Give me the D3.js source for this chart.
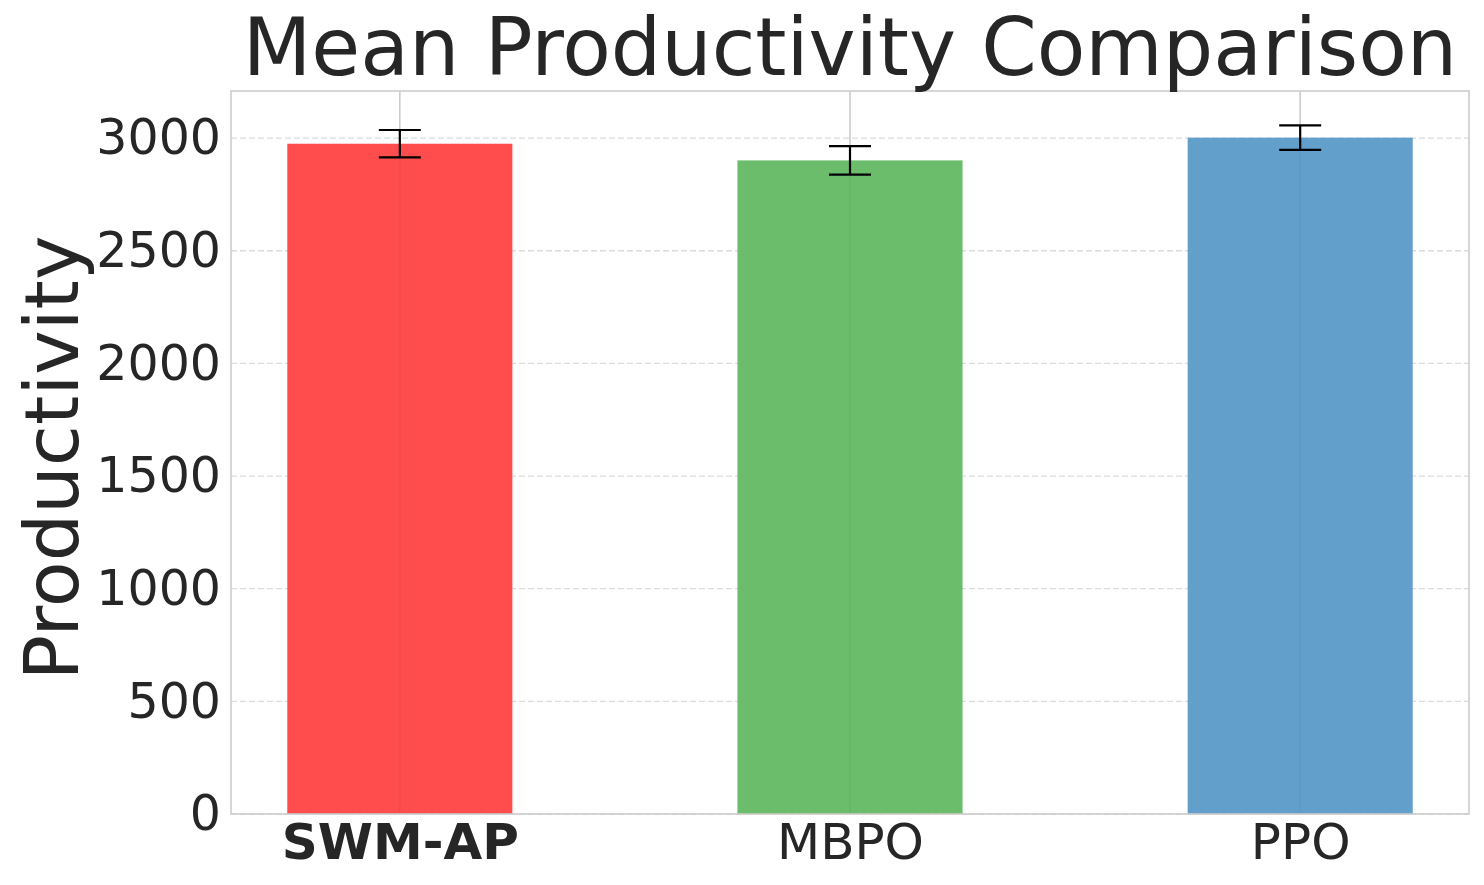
<!DOCTYPE html>
<html>
<head>
<meta charset="utf-8">
<script src="https://cdn.jsdelivr.net/npm/d3@7"></script>
<style>
  body { margin: 0; background: #fff; }
  text { font-family: "DejaVu Sans", sans-serif; fill: #262626; }
</style>
</head>
<body>
<script>
// chart data
var methods = ["SWM-AP", "MBPO", "PPO"];
var meanValues = [2975, 2901, 3002];
var errValues = [61, 63, 54];
var barColors = ["#ff4d4d", "#6bbd6b", "#62a0cb"];
var yTicks = [0, 500, 1000, 1500, 2000, 2500, 3000];

// set the dimensions and margins of the graph
var margin = {top: 91, right: 15, bottom: 71, left: 231},
    width = 1484 - margin.left - margin.right,
    height = 885 - margin.top - margin.bottom;

var svg = d3.select("body")
  .append("svg")
    .attr("width", 1484)
    .attr("height", 885);

var g = svg.append("g")
    .attr("transform", "translate(" + margin.left + "," + margin.top + ")");

// x scale in category index units, like matplotlib bars
var xscale = d3.scaleLinear()
  .domain([-0.375, methods.length - 1 + 0.375])
  .range([0, width]);

var yscale = d3.scaleLinear()
  .domain([0, 3209])
  .range([height, 0]);

// vertical grid (solid)
g.append("g").selectAll("line")
  .data(methods)
  .join("line")
    .attr("x1", (d, i) => xscale(i))
    .attr("x2", (d, i) => xscale(i))
    .attr("y1", 0)
    .attr("y2", height)
    .attr("stroke", "#cccccc")
    .attr("stroke-width", 1.6);

// horizontal grid (dashed)
g.append("g").selectAll("line")
  .data(yTicks)
  .join("line")
    .attr("x1", 0)
    .attr("x2", width)
    .attr("y1", d => yscale(d))
    .attr("y2", d => yscale(d))
    .attr("stroke", "#cccccc")
    .attr("stroke-opacity", 0.7)
    .attr("stroke-width", 1.3)
    .attr("stroke-dasharray", "6,3");

// Bars
var barW = xscale(0.5) - xscale(0);
g.append("g").selectAll("rect")
  .data(methods)
  .join("rect")
    .attr("x", (d, i) => xscale(i) - barW / 2)
    .attr("y", (d, i) => yscale(meanValues[i]))
    .attr("width", barW)
    .attr("height", (d, i) => height - yscale(meanValues[i]))
    .attr("fill", (d, i) => barColors[i]);

// vertical grid line faintly visible through the bars
g.append("g").selectAll("line")
  .data(methods)
  .join("line")
    .attr("x1", (d, i) => xscale(i))
    .attr("x2", (d, i) => xscale(i))
    .attr("y1", (d, i) => yscale(meanValues[i]))
    .attr("y2", height)
    .attr("stroke", "#000")
    .attr("stroke-opacity", 0.04)
    .attr("stroke-width", 1.6);

// error bars
var errG = g.append("g");
var capW = 42;
methods.forEach(function(m, i) {
  var x = xscale(i);
  var lo = yscale(meanValues[i] - errValues[i]);
  var hi = yscale(meanValues[i] + errValues[i]);
  errG.append("line").attr("x1", x).attr("x2", x).attr("y1", lo).attr("y2", hi)
    .attr("stroke", "#000").attr("stroke-width", 2.2);
  [lo, hi].forEach(function(y) {
    errG.append("line").attr("x1", x - capW / 2).attr("x2", x + capW / 2)
      .attr("y1", y).attr("y2", y)
      .attr("stroke", "#000").attr("stroke-width", 2.2);
  });
});

// frame
g.append("rect")
  .attr("x", 0).attr("y", 0)
  .attr("width", width).attr("height", height)
  .attr("fill", "none")
  .attr("stroke", "#cccccc")
  .attr("stroke-width", 1.6);

// Y axis tick labels
var yAxis = g.append("g")
  .call(d3.axisLeft(yscale).tickValues(yTicks).tickSize(0).tickPadding(10).tickFormat(d3.format("d")));
yAxis.select(".domain").remove();
yAxis.selectAll("text")
  .attr("font-size", 49)
  .attr("fill", "#262626")
  .style("font-family", "DejaVu Sans");

// X axis tick labels
var xAxis = g.append("g")
  .attr("transform", "translate(0," + height + ")")
  .call(d3.axisBottom(xscale).tickValues([0, 1, 2]).tickSize(0).tickPadding(9)
    .tickFormat(i => methods[i]));
xAxis.select(".domain").remove();
xAxis.selectAll("text")
  .attr("font-size", 50)
  .attr("fill", "#262626")
  .style("font-family", "DejaVu Sans")
  .attr("font-weight", (d, i) => i === 0 ? "bold" : "normal");

// title
svg.append("text")
  .attr("x", margin.left + width / 2)
  .attr("y", 75)
  .attr("text-anchor", "middle")
  .attr("font-size", 79.5)
  .text("Mean Productivity Comparison");

// y label
svg.append("text")
  .attr("transform", "translate(78,458) rotate(-90)")
  .attr("text-anchor", "middle")
  .attr("font-size", 75)
  .text("Productivity");
</script>
</body>
</html>
